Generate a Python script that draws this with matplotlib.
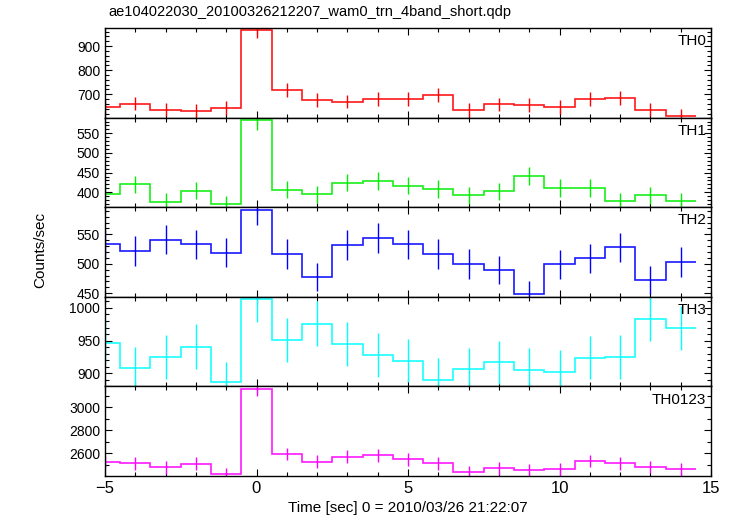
import numpy as np
import matplotlib
matplotlib.use("Agg")
import matplotlib.pyplot as plt
from matplotlib.ticker import MultipleLocator

plt.rcParams['font.family'] = ['Liberation Sans', 'DejaVu Sans']

title = "ae104022030_20100326212207_wam0_trn_4band_short.qdp"
time = list(range(-5, 15))  # bin centres, 1 s bins

th0 = [647, 661, 636, 630, 643, 967, 719, 676, 669, 679, 682, 696, 635, 658, 655, 647, 682, 683, 636, 610]
th0_err = [28, 28, 28, 28, 28, 34, 29, 29, 28, 29, 29, 29, 28, 28, 28, 28, 29, 29, 28, 27]

th1 = [396, 420, 376, 404, 369, 585, 407, 395, 424, 428, 417, 408, 392, 402, 441, 411, 411, 377, 392, 378]
th1_err = [22, 22, 21, 22, 21, 26, 22, 22, 22, 23, 22, 22, 21, 22, 23, 22, 22, 21, 22, 21]

th2 = [533, 522, 541, 533, 519, 592, 517, 478, 532, 544, 533, 517, 500, 489, 448, 499, 509, 528, 472, 503]
th2_err = [25, 25, 25, 25, 25, 27, 25, 24, 25, 26, 25, 25, 25, 24, 23, 24, 25, 25, 24, 25]

th3 = [947, 908, 925, 941, 886, 1013, 951, 976, 945, 928, 919, 890, 906, 917, 905, 902, 924, 925, 983, 969]
th3_err = [33, 33, 33, 34, 32, 35, 34, 34, 34, 33, 33, 33, 33, 33, 33, 33, 33, 33, 34, 34]

th0123 = [2524, 2513, 2478, 2510, 2417, 3162, 2594, 2527, 2571, 2583, 2550, 2513, 2438, 2470, 2452, 2461, 2533, 2513, 2481, 2461]
th0123_err = [55, 55, 55, 55, 54, 62, 56, 55, 56, 56, 56, 55, 54, 54, 54, 54, 55, 55, 55, 54]

names = ["TH0", "TH1", "TH2", "TH3", "TH0123"]
series = [th0, th1, th2, th3, th0123]
errors = [th0_err, th1_err, th2_err, th3_err, th0123_err]
colors = ["#ff0000", "#00ee00", "#0000ff", "#00ffff", "#ff00ff"]
ylims = [(603, 975), (362, 590), (444, 596), (880, 1017), (2403, 3182)]
majors = [100, 50, 50, 50, 200]
minors = [20, 10, 10, 10, 100]

fig = plt.figure(figsize=(7.33, 5.16), dpi=100)
fig.subplots_adjust(left=105/733, right=711/733, top=1-28/516, bottom=1-476/516, hspace=0)
axes = fig.subplots(5, 1, sharex=True)

for ax, name, y, e, c, yl, mj, mn in zip(axes, names, series, errors, colors, ylims, majors, minors):
    t = np.array(time, dtype=float)
    edges = np.concatenate([t - 0.5, [t[-1] + 0.5]])
    ax.stairs(y, edges, baseline=None, color=c, lw=1.2, alpha=0.9)
    ax.errorbar(t, y, yerr=e, fmt='none', ecolor=c, elinewidth=1.0, capsize=0)
    ax.set_xlim(-5, 15)
    ax.set_ylim(*yl)
    ax.xaxis.set_major_locator(MultipleLocator(5))
    ax.xaxis.set_minor_locator(MultipleLocator(1))
    ax.yaxis.set_major_locator(MultipleLocator(mj))
    ax.yaxis.set_minor_locator(MultipleLocator(mn))
    ax.tick_params(which='both', direction='in', top=True, right=True, labelsize=10, width=0.8)
    ax.tick_params(which='major', length=5)
    ax.tick_params(which='minor', length=3)
    for s in ax.spines.values():
        s.set_linewidth(1.0)
    ax.text(0.992, 0.93, name, transform=ax.transAxes, ha='right', va='top', fontsize=11)

axes[-1].tick_params(axis='x', labelsize=12)
axes[-1].set_xlabel("Time [sec] 0 = 2010/03/26 21:22:07", fontsize=11, labelpad=4)
fig.text(40/733, 1-250/516, "Counts/sec", rotation=90, ha='center', va='center', fontsize=11)
fig.text(108/733, 1-12/516, title, ha='left', va='center', fontsize=10.5)

fig.savefig("out.png", dpi=100)
